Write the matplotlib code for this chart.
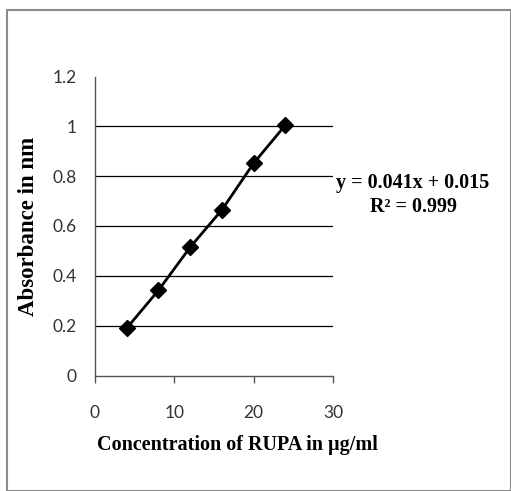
import matplotlib
matplotlib.use("Agg")
import matplotlib.pyplot as plt
from matplotlib.patches import Rectangle

conc = [4, 8, 12, 16, 20, 24]
absorb = [0.19, 0.342, 0.515, 0.665, 0.852, 1.005]
xticks = [0, 10, 20, 30]
yticks = [0, 0.2, 0.4, 0.6, 0.8, 1.0, 1.2]
ytick_labels = ["0", "0.2", "0.4", "0.6", "0.8", "1", "1.2"]
equation = "y = 0.041x + 0.015"
r2 = "R² = 0.999"

fig = plt.figure(figsize=(5.11, 4.91), dpi=100)
fig.patches.append(Rectangle((7/511, 0), 1 - 7/511, 1 - 10/491, transform=fig.transFigure,
                             fill=False, edgecolor="#8c8c8c", linewidth=1.5))
ax = fig.add_axes([95/511, 1 - 375.5/491, (333 - 95)/511, (375.5 - 76.5)/491])

ax.plot(conc, absorb, color="black", linewidth=2, marker="D", markersize=8,
        markerfacecolor="black", markeredgecolor="black", zorder=3)

ax.set_xlim(0, 30)
ax.set_ylim(0, 1.2)
ax.set_xticks(xticks)
ax.set_yticks(yticks)
ax.set_yticklabels(ytick_labels)
for y in yticks[1:-1]:
    ax.axhline(y, color="black", linewidth=0.9, zorder=1)

for s in ["top", "right"]:
    ax.spines[s].set_visible(False)
ax.spines["left"].set_color("#555555")
ax.spines["bottom"].set_color("#555555")
ax.spines["left"].set_linewidth(1)
ax.spines["bottom"].set_linewidth(1)

tick_font = "Lato"
ax.tick_params(axis="x", direction="out", length=5, width=1, color="#555555", pad=16,
               labelsize=12.5)
ax.tick_params(axis="y", length=0, pad=13, labelsize=12.5)
for lab in ax.get_xticklabels() + ax.get_yticklabels():
    lab.set_fontfamily(tick_font)
    lab.set_color("#333333")

ax.set_xlabel("Concentration of RUPA in µg/ml", fontfamily="Liberation Serif",
              fontweight="bold", fontsize=14.5)
ax.xaxis.set_label_coords(0.597, -0.233, transform=ax.transAxes)
ax.xaxis.label.set_va("center")
ax.set_ylabel("Absorbance in nm", fontfamily="Liberation Serif",
              fontweight="bold", fontsize=16.5, labelpad=10)

fig.text(413/511, 1 - 183/491, equation, ha="center", va="center",
         fontfamily="Liberation Serif", fontweight="bold", fontsize=14.5)
fig.text(413/511, 1 - 207/491, r2, ha="center", va="center",
         fontfamily="Liberation Serif", fontweight="bold", fontsize=14.5)

fig.savefig("out.png", dpi=100)
